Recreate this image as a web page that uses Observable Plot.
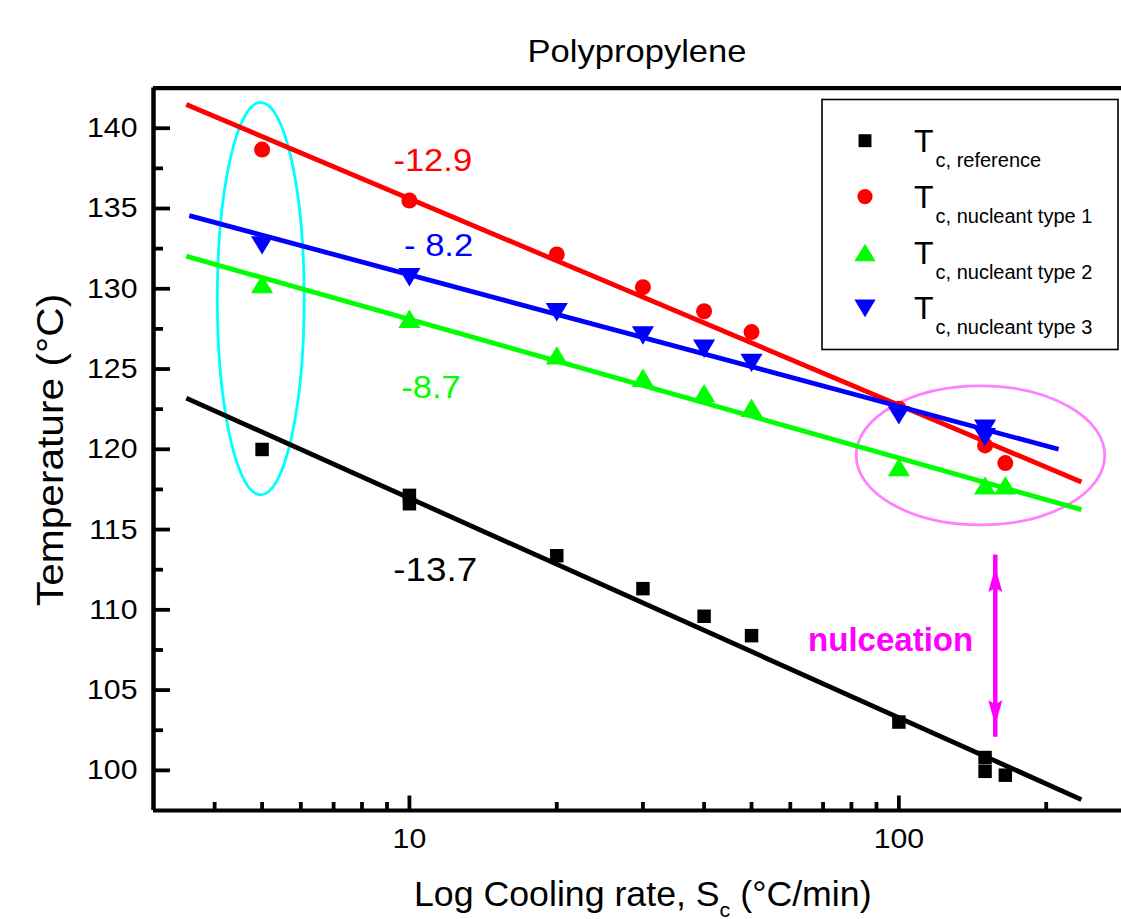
<!DOCTYPE html>
<html><head><meta charset="utf-8">
<script src="https://cdn.jsdelivr.net/npm/d3@7"></script>
<script src="https://cdn.jsdelivr.net/npm/@observablehq/plot@0.6"></script>
<style>
body{margin:0;background:#fff;}
#chart{position:relative;width:1121px;height:919px;}
svg text{font-family:"Liberation Sans",Arial,sans-serif;}
</style>
</head><body><div id="chart"></div>
<script>
// ---- Data ----
const seriesNames = ["reference", "nucleant type 1", "nucleant type 2", "nucleant type 3"];
const seriesColors = ["#000000", "#ff0000", "#00ff00", "#0000ff"];

const refX = [5, 10, 10, 20, 30, 40, 50, 100, 150, 150, 165];
const refY = [119.99, 117.13, 116.61, 113.37, 111.32, 109.6, 108.39, 103.01, 100.8, 99.94, 99.7];
const type1X = [5, 10, 20, 30, 40, 50, 100, 150, 165];
const type1Y = [138.67, 135.5, 132.14, 130.1, 128.6, 127.3, 122.53, 120.24, 119.14];
const type2X = [5, 10, 20, 30, 40, 50, 100, 150, 165];
const type2Y = [130.3, 128.13, 125.85, 124.46, 123.5, 122.59, 118.89, 117.75, 117.75];
const type3X = [5, 10, 20, 30, 40, 50, 100, 150, 150];
const type3Y = [132.7, 130.72, 128.54, 127.09, 126.26, 125.38, 122.11, 121.28, 120.76];

// fitted lines (endpoints)
const fitX1 = [3.5, 3.5, 3.5, 3.55];
const fitY1 = [123.19, 141.48, 132.03, 134.56];
const fitX2 = [236, 236, 236, 212];
const fitY2 = [98.18, 117.96, 116.24, 120.0];

// slope labels
const slopeText = ["-13.7", "-12.9", "-8.7", "- 8.2"];
const slopeX = [11.29, 11.16, 11.07, 11.47];
const slopeY = [112.45, 137.96, 123.85, 132.71];

// highlight ellipses (bounding boxes in data units)
const ellipseX1 = [4.06, 82];
const ellipseX2 = [6.11, 264];
const ellipseY1 = [117.13, 115.26];
const ellipseY2 = [141.58, 123.92];
const ellipseColor = ["#00ffff", "#ff80ff"];

// nucleation arrow
const arrowX = [157.4];
const arrowYLow = [102.81];
const arrowYHigh = [112.67];
const noteText = ["nulceation"];
const noteX = [96.2];
const noteY = [108.1];

// axes
const xDomain = [3, 285];
const yDomain = [97.5, 142.5];
const xMajor = [10, 100];
const xMinor = [4, 5, 6, 7, 8, 9, 20, 30, 40, 50, 60, 70, 80, 90, 200];
const yMajor = [100, 105, 110, 115, 120, 125, 130, 135, 140];
const yMinor = [102.5, 107.5, 112.5, 117.5, 122.5, 127.5, 132.5, 137.5];

const titleText = "Polypropylene";
const yLabelText = "Temperature (\u00B0C)";
const xLabelMain = "Log Cooling rate, S";
const xLabelSub = "c";
const xLabelTail = " (\u00B0C/min)";
const legendMain = "T";
const legendSub = ["c, reference", "c, nucleant type 1", "c, nucleant type 2", "c, nucleant type 3"];

// ---- Build tables ----
const pts = (xs, ys, s) => xs.map((x, i) => ({x, y: ys[i], s}));
const refPts = pts(refX, refY, 0);
const t1Pts = pts(type1X, type1Y, 1);
const t2Pts = pts(type2X, type2Y, 2);
const t3Pts = pts(type3X, type3Y, 3);
const fits = fitX1.map((x1, i) => ({x1, y1: fitY1[i], x2: fitX2[i], y2: fitY2[i], c: seriesColors[i]}));
const slopes = slopeText.map((t, i) => ({t, x: slopeX[i], y: slopeY[i], c: seriesColors[i]}));
const ellipses = ellipseX1.map((x1, i) => ({x1, x2: ellipseX2[i], y1: ellipseY1[i], y2: ellipseY2[i], c: ellipseColor[i]}));
const arrow = arrowX.map((x, i) => ({x, lo: arrowYLow[i], hi: arrowYHigh[i]}));

// ---- Symbols ----
const triUp = {draw(ctx, size) { const r = Math.sqrt(size / Math.PI); const w = 1.35 * r, h = 1.12 * r;
  ctx.moveTo(0, -h); ctx.lineTo(w, h); ctx.lineTo(-w, h); ctx.closePath(); }};
const triDown = {draw(ctx, size) { const r = Math.sqrt(size / Math.PI); const w = 1.35 * r, h = 1.12 * r;
  ctx.moveTo(0, h); ctx.lineTo(w, -h); ctx.lineTo(-w, -h); ctx.closePath(); }};
const head = {draw(ctx) { ctx.moveTo(0, 0); ctx.lineTo(7, 25); ctx.lineTo(0, 21); ctx.lineTo(-7, 25); ctx.closePath(); }};
const vTick = (len) => ({draw(ctx) { ctx.moveTo(0, 0); ctx.lineTo(0, -len); }});
const hTick = (len) => ({draw(ctx) { ctx.moveTo(0, 0); ctx.lineTo(len, 0); }});

const LW = 4.8; // fit line width
const W = 1121, H = 919;
const chart = Plot.plot({
  width: W, height: H,
  marginLeft: 153, marginRight: 0, marginTop: 87.6, marginBottom: 109,
  x: {type: "log", domain: xDomain, axis: null},
  y: {domain: yDomain, axis: null},
  color: {type: "identity"},
  style: {fontFamily: "'Liberation Sans', Arial, sans-serif", background: "white", overflow: "visible"},
  marks: [
    (index, scales) => {
      const g = d3.create("svg:g").attr("fill", "none");
      for (const e of ellipses) {
        const xa = scales.x(e.x1), xb = scales.x(e.x2), ya = scales.y(e.y1), yb = scales.y(e.y2);
        g.append("ellipse").attr("cx", (xa + xb) / 2).attr("cy", (ya + yb) / 2)
          .attr("rx", Math.abs(xb - xa) / 2).attr("ry", Math.abs(yb - ya) / 2)
          .attr("stroke", e.c).attr("stroke-width", 2.8);
      }
      return g.node();
    },
    Plot.ruleY(yDomain, {stroke: "black", strokeWidth: 4.2}),
    Plot.ruleX([xDomain[0]], {stroke: "black", strokeWidth: 4.5}),
    Plot.dot(xMajor, {x: d => d, frameAnchor: "bottom", symbol: vTick(15), stroke: "black", strokeWidth: 3.8, fill: "none"}),
    Plot.dot(xMinor, {x: d => d, frameAnchor: "bottom", symbol: vTick(8.5), stroke: "black", strokeWidth: 3.8, fill: "none"}),
    Plot.dot(yMajor, {y: d => d, frameAnchor: "left", symbol: hTick(16.5), stroke: "black", strokeWidth: 3.8, fill: "none"}),
    Plot.dot(yMinor, {y: d => d, frameAnchor: "left", symbol: hTick(9.5), stroke: "black", strokeWidth: 3.8, fill: "none"}),
    Plot.text(xMajor, {x: d => d, frameAnchor: "bottom", lineAnchor: "top", dy: 18, fontSize: 28, fill: "black", text: d => String(d)}),
    Plot.text(yMajor, {y: d => d, frameAnchor: "left", textAnchor: "end", dx: -16, fontSize: 28, fill: "black", text: d => String(d)}),
    Plot.link(fits.slice(0, 1), {x1: "x1", y1: "y1", x2: "x2", y2: "y2", stroke: "c", strokeWidth: LW}),
    Plot.dot(refPts, {x: "x", y: "y", symbol: "square", r: 7.6, fill: seriesColors[0], stroke: "none"}),
    Plot.link(fits.slice(1, 2), {x1: "x1", y1: "y1", x2: "x2", y2: "y2", stroke: "c", strokeWidth: LW}),
    Plot.dot(t1Pts, {x: "x", y: "y", symbol: "circle", r: 8, fill: seriesColors[1], stroke: "none"}),
    Plot.link(fits.slice(2, 3), {x1: "x1", y1: "y1", x2: "x2", y2: "y2", stroke: "c", strokeWidth: LW}),
    Plot.dot(t2Pts, {x: "x", y: "y", symbol: triUp, r: 8.2, fill: seriesColors[2], stroke: "none"}),
    Plot.link(fits.slice(3, 4), {x1: "x1", y1: "y1", x2: "x2", y2: "y2", stroke: "c", strokeWidth: LW}),
    Plot.dot(t3Pts, {x: "x", y: "y", symbol: triDown, r: 8.2, fill: seriesColors[3], stroke: "none"}),
    Plot.text(slopes.slice(0, 1), {x: "x", y: "y", text: "t", fill: "c", fontSize: 34}),
    Plot.text(slopes.slice(1), {x: "x", y: "y", text: "t", fill: "c", fontSize: 32}),
    Plot.ruleX(arrow, {x: "x", y1: "lo", y2: "hi", stroke: "#ff00ff", strokeWidth: 4.5, insetTop: 12, insetBottom: 12}),
    Plot.dot(arrow, {x: "x", y: "hi", symbol: head, r: 5, fill: "#ff00ff", stroke: "none"}),
    Plot.dot(arrow, {x: "x", y: "lo", symbol: head, r: 5, rotate: 180, fill: "#ff00ff", stroke: "none"}),
    Plot.text(noteText, {x: noteX, y: noteY, text: d => d, fill: "#ff00ff", fontSize: 33, fontWeight: "bold", className: "note"})
  ]
});

const svg = d3.select(chart);
svg.append("text").attr("class", "ttl").attr("x", 637).attr("y", 62).attr("text-anchor", "middle")
  .attr("font-size", 32).attr("fill", "black").text(titleText);
svg.append("text").attr("class", "ylab").attr("transform", "translate(63,450) rotate(-90)").attr("text-anchor", "middle")
  .attr("font-size", 36).attr("fill", "black").text(yLabelText);
const xl = svg.append("text").attr("class", "xlab").attr("x", 414).attr("y", 906).attr("text-anchor", "start")
  .attr("font-size", 35).attr("fill", "black");
xl.append("tspan").text(xLabelMain);
xl.append("tspan").attr("font-size", 21).attr("dy", 11).text(xLabelSub);
xl.append("tspan").attr("dy", -11).text(xLabelTail);

const lg = svg.append("g");
lg.append("rect").attr("x", 822).attr("y", 99.5).attr("width", 296).attr("height", 250)
  .attr("fill", "white").attr("stroke", "black").attr("stroke-width", 1.6);
const legendSymbols = [d3.symbolSquare, d3.symbolCircle, triUp, triDown];
const legendSizes = [Math.PI * 7.3 * 7.3, Math.PI * 7.6 * 7.6, Math.PI * 7.9 * 7.9, Math.PI * 7.9 * 7.9];
seriesNames.forEach((s, i) => {
  const cy = 140.7 + i * 55.9;
  lg.append("path").attr("transform", `translate(865,${cy})`)
    .attr("d", d3.symbol(legendSymbols[i], legendSizes[i])()).attr("fill", seriesColors[i]);
  const t = lg.append("text").attr("class", "leg").attr("x", 914).attr("y", cy + 11).attr("text-anchor", "start")
    .attr("font-size", 32).attr("fill", "black");
  t.append("tspan").text(legendMain);
  t.append("tspan").attr("font-size", 20).attr("dy", 15).attr("dx", 2).text(legendSub[i]);
});
document.getElementById("chart").appendChild(chart);

// widen glyphs slightly to match the reference's wider text rendering
const stretch = (sel, k) => sel.each(function() {
  const L = this.getComputedTextLength();
  if (L > 0) { this.setAttribute("textLength", L * k); this.setAttribute("lengthAdjust", "spacingAndGlyphs"); }
});
stretch(svg.selectAll("g[aria-label='text']:not(.note) text"), 1.08);
stretch(svg.selectAll("text.ttl"), 1.08);
stretch(svg.selectAll("text.ylab"), 1.13);
stretch(svg.selectAll("text.xlab"), 1.02);
</script>
</body></html>
